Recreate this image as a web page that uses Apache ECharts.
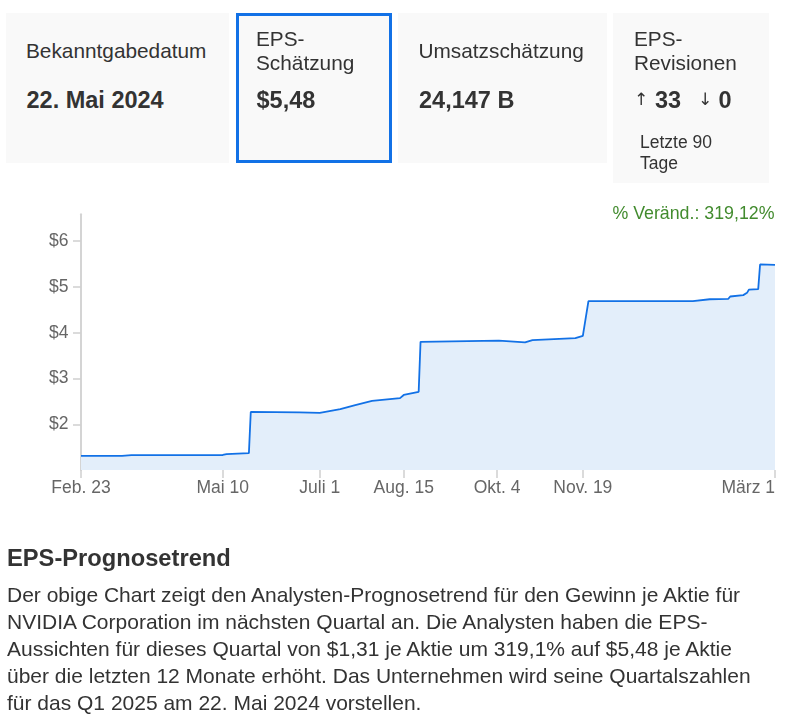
<!DOCTYPE html>
<html>
<head>
<meta charset="utf-8">
<script src="https://cdn.jsdelivr.net/npm/echarts@6/dist/echarts.min.js"></script>
<style>
  html, body { margin:0; padding:0; background:#fff; }
  body { width:786px; height:718px; position:relative; overflow:hidden;
         font-family:"Liberation Sans", Arial, sans-serif; color:#333; }
  #chart { position:absolute; left:0; top:0; width:786px; height:718px; z-index:0; }
  .card { position:absolute; background:#f9f9f9; z-index:1; box-sizing:border-box; }
  .t { position:absolute; white-space:nowrap; z-index:2; }
  .lbl { font-size:20.8px; line-height:24px; }
  .val { font-size:23.5px; line-height:28px; font-weight:bold; }
  .arr { font-family:"DejaVu Sans", sans-serif; font-size:17px; line-height:28px; color:#333; }
  .small { font-size:17.5px; line-height:21px; }
  #h { position:absolute; left:7px; top:544px; font-size:23.7px; line-height:28px; font-weight:bold; white-space:nowrap; z-index:2; }
  #p { position:absolute; left:7px; top:580.5px; font-size:21px; line-height:27px; white-space:nowrap; z-index:2; }
</style>
</head>
<body>
<div id="chart"></div>

<div class="card" style="left:6px;top:13px;width:223px;height:150px;"></div>
<div class="card" style="left:236px;top:13px;width:156px;height:150px;border:3px solid #1271e6;"></div>
<div class="card" style="left:398px;top:13px;width:209px;height:150px;"></div>
<div class="card" style="left:613px;top:13px;width:156px;height:170px;"></div>

<div class="t lbl" style="left:26px;top:39px;">Bekanntgabedatum</div>
<div class="t val" style="left:26.5px;top:86px;">22. Mai 2024</div>

<div class="t lbl" style="left:256px;top:26.5px;">EPS-<br>Schätzung</div>
<div class="t val" style="left:256.5px;top:86px;">$5,48</div>

<div class="t lbl" style="left:418.5px;top:39px;">Umsatzschätzung</div>
<div class="t val" style="left:419px;top:86px;">24,147 B</div>

<div class="t lbl" style="left:634px;top:26.5px;">EPS-<br>Revisionen</div>
<div class="t arr" style="left:634px;top:85px;">↑</div>
<div class="t val" style="left:655px;top:86px;">33</div>
<div class="t arr" style="left:698px;top:85px;">↓</div>
<div class="t val" style="left:718.5px;top:86px;">0</div>
<div class="t small" style="left:640px;top:132px;">Letzte 90<br>Tage</div>

<div id="h">EPS-Prognosetrend</div>
<div id="p">Der obige Chart zeigt den Analysten-Prognosetrend für den Gewinn je Aktie für<br>NVIDIA Corporation im nächsten Quartal an. Die Analysten haben die EPS-<br>Aussichten für dieses Quartal von $1,31 je Aktie um 319,1% auf $5,48 je Aktie<br>über die letzten 12 Monate erhöht. Das Unternehmen wird seine Quartalszahlen<br>für das Q1 2025 am 22. Mai 2024 vorstellen.</div>

<script>
// ---- data ----
const dates = ['2023-02-23','2023-03-17','2023-03-22','2023-05-10','2023-05-12','2023-05-24','2023-05-25',
  '2023-06-20','2023-07-01','2023-07-12','2023-07-20','2023-07-29','2023-08-13','2023-08-15','2023-08-23',
  '2023-08-24','2023-10-05','2023-10-19','2023-10-23','2023-11-15','2023-11-19','2023-11-22',
  '2024-01-17','2024-01-26','2024-02-05','2024-02-06','2024-02-13','2024-02-15','2024-02-16','2024-02-21',
  '2024-02-22','2024-03-01'];
const eps = [1.31,1.31,1.325,1.33,1.35,1.37,2.27,
  2.26,2.25,2.33,2.42,2.51,2.57,2.64,2.71,
  3.80,3.825,3.79,3.84,3.88,3.93,4.69,
  4.69,4.73,4.74,4.79,4.82,4.87,4.94,4.95,
  5.49,5.48];
const xTickDates = ['2023-02-23','2023-05-10','2023-07-01','2023-08-15','2023-10-04','2023-11-19','2024-03-01'];
const xTickLabels = ['Feb. 23','Mai 10','Juli 1','Aug. 15','Okt. 4','Nov. 19','März 1'];
const yTicks = [2,3,4,5,6];
const changeText = '% Veränd.: 319,12%';

const FONT = '"Liberation Sans", Arial, sans-serif';
const DAY = 86400000;
const ts = s => { const p = s.split('-').map(Number); return Date.UTC(p[0], p[1]-1, p[2]) / DAY; };
const xTickVals = xTickDates.map(ts);
const labelMap = {};
xTickVals.forEach((t,i) => { labelMap[t] = xTickLabels[i]; });

const chart = echarts.init(document.getElementById('chart'), null, {renderer:'canvas'});
chart.setOption({
  animation:false,
  grid:{ left:81, right:11, top:214.3, bottom:247.9, containLabel:false },
  xAxis:{
    type:'value',
    min: xTickVals[0],
    max: xTickVals[xTickVals.length-1],
    axisLine:{ show:false },
    axisTick:{ show:true, length:8, customValues: xTickVals, lineStyle:{ color:'#cfcfcf', width:1.5 } },
    axisLabel:{ customValues: xTickVals, margin:9, color:'#666', fontSize:17.5, fontFamily:FONT,
      alignMaxLabel:'right',
      formatter: v => labelMap[v] || '' },
    splitLine:{ show:false }
  },
  yAxis:{
    type:'value',
    min:1, max:6.585,
    axisLine:{ show:true, lineStyle:{ color:'#d4d4d4', width:2 } },
    axisTick:{ show:true, length:8, customValues: yTicks, lineStyle:{ color:'#cfcfcf', width:1.5 } },
    axisLabel:{ customValues: yTicks, margin:12.5, color:'#666', fontSize:17.5, fontFamily:FONT,
      formatter: v => '$' + v },
    splitLine:{ show:false }
  },
  graphic:[{
    type:'text', z:10,
    style:{ x:774.5, y:214, text:changeText, align:'right', verticalAlign:'middle',
      fill:'#428b2e', font:'17.8px ' + FONT }
  }],
  series:[{
    type:'line',
    data: dates.map((d,i) => [ts(d), eps[i]]),
    showSymbol:false,
    lineStyle:{ color:'#1271e6', width:1.8 },
    areaStyle:{ color:'#e3eefa', origin:'start', opacity:1 },
    z:2
  }]
});
</script>
</body>
</html>
